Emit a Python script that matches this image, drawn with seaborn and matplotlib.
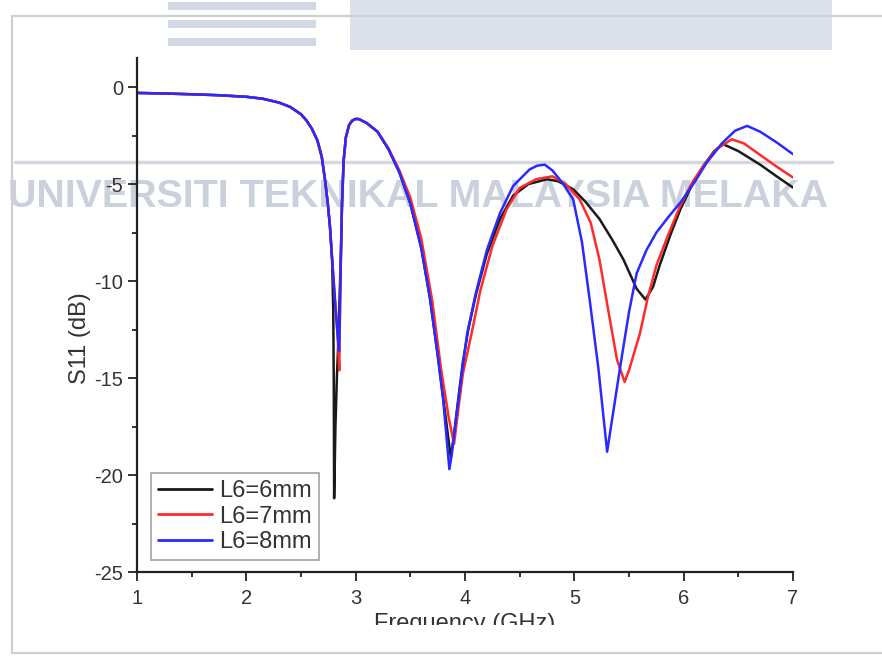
import matplotlib
matplotlib.use("Agg")
import matplotlib.pyplot as plt
import seaborn as sns
import pandas as pd
from matplotlib.patches import Rectangle
from matplotlib.lines import Line2D
from matplotlib.ticker import MultipleLocator

# ---------------- data ----------------
labels = ["L6=6mm", "L6=7mm", "L6=8mm"]
colors = ["#1a1a1a", "#ff2a2a", "#2a2aff"]

freq_6mm = [1.00, 1.25, 1.50, 1.75, 2.00, 2.15, 2.30, 2.40, 2.50, 2.55, 2.60, 2.65, 2.69, 2.72, 2.745, 2.765,
            2.785, 2.795, 2.800, 2.803, 2.815, 2.828, 2.840, 2.852, 2.866, 2.875, 2.89, 2.91, 2.94, 2.97, 3.00, 3.03,
            3.10, 3.20, 3.30, 3.40, 3.50, 3.60, 3.68, 3.75, 3.80, 3.87, 3.90, 3.94, 3.98, 4.03, 4.10, 4.20, 4.32,
            4.44, 4.58, 4.75, 4.85, 4.99, 5.10, 5.23, 5.35, 5.45, 5.57, 5.65, 5.72, 5.78, 5.88, 5.97, 6.08, 6.18,
            6.28, 6.36, 6.50, 6.70, 6.85, 7.00]
s11_6mm = [-0.30, -0.33, -0.37, -0.42, -0.50, -0.60, -0.80, -1.02, -1.40, -1.72, -2.15, -2.75, -3.60, -4.80, -6.0, -7.2,
           -9.0, -11.5, -15.5, -21.2, -17.5, -15.0, -13.3, -11.0, -8.4, -6.0, -3.8, -2.6, -1.95, -1.72, -1.64, -1.65,
           -1.85, -2.3, -3.2, -4.4, -6.0, -8.3, -10.9, -13.8, -16.0, -19.1, -17.9, -16.0, -14.2, -12.5, -10.7, -8.6, -6.8,
           -5.6, -5.0, -4.75, -4.85, -5.27, -5.9, -6.8, -7.9, -8.9, -10.4, -10.95, -10.3, -9.2, -7.6, -6.3, -5.0, -4.06,
           -3.3, -2.94, -3.3, -4.0, -4.6, -5.18]

freq_7mm = [1.00, 1.25, 1.50, 1.75, 2.00, 2.15, 2.30, 2.40, 2.50, 2.55, 2.60, 2.65, 2.69, 2.72, 2.745, 2.765,
            2.79, 2.815, 2.835, 2.850, 2.858, 2.866, 2.875, 2.89, 2.91, 2.94, 2.97, 3.00, 3.03, 3.10, 3.20, 3.30,
            3.40, 3.50, 3.60, 3.70, 3.78, 3.85, 3.90, 3.93, 3.98, 4.06, 4.14, 4.25, 4.38, 4.50, 4.65, 4.80, 4.92,
            5.05, 5.15, 5.23, 5.31, 5.39, 5.46, 5.50, 5.60, 5.67, 5.75, 5.86, 5.97, 6.08, 6.18, 6.30, 6.44, 6.55,
            6.70, 6.85, 7.00]
s11_7mm = [-0.30, -0.33, -0.37, -0.42, -0.50, -0.60, -0.80, -1.02, -1.40, -1.72, -2.15, -2.75, -3.60, -4.80, -6.0, -7.2,
           -9.3, -11.3, -12.8, -14.6, -11.0, -8.4, -6.0, -3.8, -2.6, -1.95, -1.72, -1.64, -1.65, -1.85, -2.3, -3.15,
           -4.3, -5.7, -7.8, -11.0, -14.5, -17.0, -18.4, -17.0, -14.8, -12.7, -10.5, -8.2, -6.3, -5.2, -4.75, -4.6, -5.0,
           -5.8, -7.0, -8.9, -11.5, -14.05, -15.2, -14.6, -12.7, -10.9, -9.2, -7.6, -6.1, -4.9, -4.06, -3.2, -2.69, -2.9,
           -3.5, -4.1, -4.66]

freq_8mm = [1.00, 1.25, 1.50, 1.75, 2.00, 2.15, 2.30, 2.40, 2.50, 2.55, 2.60, 2.65, 2.69, 2.72, 2.745, 2.765,
            2.79, 2.815, 2.835, 2.848, 2.858, 2.866, 2.875, 2.89, 2.91, 2.94, 2.97, 3.00, 3.03, 3.10, 3.20, 3.30,
            3.40, 3.50, 3.60, 3.68, 3.75, 3.80, 3.857, 3.88, 3.92, 3.97, 4.02, 4.10, 4.20, 4.32, 4.44, 4.59, 4.66,
            4.73, 4.80, 4.90, 4.99, 5.07, 5.14, 5.22, 5.30, 5.36, 5.42, 5.50, 5.57, 5.66, 5.75, 5.86, 5.97, 6.10,
            6.21, 6.35, 6.47, 6.58, 6.70, 6.85, 7.00]
s11_8mm = [-0.30, -0.33, -0.37, -0.42, -0.50, -0.60, -0.80, -1.02, -1.40, -1.72, -2.15, -2.75, -3.60, -4.80, -6.0, -7.2,
           -9.3, -11.3, -12.8, -13.6, -11.0, -8.4, -6.0, -3.8, -2.6, -1.95, -1.72, -1.64, -1.65, -1.85, -2.3, -3.2,
           -4.4, -6.0, -8.3, -10.9, -13.8, -16.1, -19.7, -18.9, -17.0, -14.8, -12.7, -10.6, -8.4, -6.5, -5.1, -4.25, -4.05,
           -4.0, -4.3, -5.0, -5.8, -8.0, -10.95, -14.5, -18.8, -16.6, -14.4, -11.6, -9.6, -8.4, -7.5, -6.7, -5.95, -4.9,
           -3.9, -2.9, -2.25, -2.0, -2.3, -2.85, -3.46]

x_ticks = [1, 2, 3, 4, 5, 6, 7]
y_ticks = [-25, -20, -15, -10, -5, 0]
watermark = "UNIVERSITI TEKNIKAL MALAYSIA MELAKA"

# ---------------- style ----------------
sns.set_theme(style="ticks")
plt.rcParams['font.family'] = ['Liberation Sans', 'DejaVu Sans']
plt.rcParams['axes.unicode_minus'] = False

W, H = 882, 656
fig = plt.figure(figsize=(W / 100, H / 100), dpi=100)
fig.patch.set_facecolor('white')

def fx(px):
    return px / W

def fy(py):
    return 1 - py / H

# watermark / page decorations (behind the plot)
fig.add_artist(Rectangle((fx(350), fy(50)), fx(482), 50 / H, transform=fig.transFigure,
                         facecolor='#dce0eb', edgecolor='none', zorder=-2))
for top in (2, 20, 38):
    fig.add_artist(Rectangle((fx(168), fy(top + 8)), fx(148), 8 / H, transform=fig.transFigure,
                             facecolor='#d3d8e5', edgecolor='none', zorder=-2))
fig.add_artist(Line2D([fx(15), fx(832)], [fy(162), fy(162)], transform=fig.transFigure,
                      color='#d5d8df', lw=2.5, zorder=-2))
fig.text(fx(418), fy(207), watermark, ha='center', va='baseline', fontsize=28.4,
         fontweight='bold', color='#cbd0dd', zorder=-1)

ax = fig.add_axes([fx(137), fy(572), 656 / W, 514 / H])
ax.set_facecolor('none')

frames = []
for lab, f, s in zip(labels, [freq_6mm, freq_7mm, freq_8mm], [s11_6mm, s11_7mm, s11_8mm]):
    frames.append(pd.DataFrame({'Frequency': f, 'S11': s, 'series': lab}))
df = pd.concat(frames, ignore_index=True)

sns.lineplot(data=df, x='Frequency', y='S11', hue='series', hue_order=labels,
             palette=colors, estimator=None, sort=False, linewidth=1.8, ax=ax)

ax.set_xlim(1, 7)
ax.set_ylim(-25, 1.5)
ax.set_xticks(x_ticks)
ax.set_yticks(y_ticks)
ax.xaxis.set_minor_locator(MultipleLocator(0.5))
ax.yaxis.set_minor_locator(MultipleLocator(2.5))
ax.tick_params(which='major', direction='out', length=6.5, width=1.3, labelsize=14.5,
               pad=3.5, color='#222222', labelcolor='#333333')
ax.tick_params(axis='x', which='major', pad=6)
ax.tick_params(which='minor', direction='out', length=3.5, width=1.3, color='#222222')
for side in ('top', 'right'):
    ax.spines[side].set_visible(False)
for side in ('left', 'bottom'):
    ax.spines[side].set_linewidth(1.6)
    ax.spines[side].set_color('#222222')

ax.set_xlabel('Frequency (GHz)', fontsize=17, color='#333333')
ax.set_ylabel('S11 (dB)', fontsize=17, color='#333333')
ax.xaxis.set_label_coords(0.5, -0.079)
ax.yaxis.set_label_coords(-0.07, 0.455)

handles, labs = ax.get_legend_handles_labels()
leg = ax.legend(handles, labs, loc='lower left', bbox_to_anchor=(0.021, 0.023), borderaxespad=0,
                frameon=True, fancybox=False, edgecolor='#8a8a8a', fontsize=17,
                handlelength=2.3, handletextpad=0.3, labelspacing=0.15, borderpad=0.3)
leg.get_frame().set_linewidth(1.2)
for t in leg.get_texts():
    t.set_color('#333333')
for lh in leg.get_lines():
    lh.set_linewidth(2.0)

# the x label is cut off by the page crop in the reference
fig.add_artist(Rectangle((fx(13), fy(651)), 1 - fx(13), 26 / H, transform=fig.transFigure,
                         facecolor='white', edgecolor='none', zorder=10))
# page frame
for xs, ys in (([fx(12), fx(12)], [fy(16), fy(653)]),
               ([fx(12), 1.0], [fy(653), fy(653)]),
               ([fx(12), 1.0], [fy(16), fy(16)])):
    fig.add_artist(Line2D(xs, ys, transform=fig.transFigure, color='#cfcfcf', lw=1.6, zorder=11))

fig.savefig('out.png', dpi=100, facecolor='white')
